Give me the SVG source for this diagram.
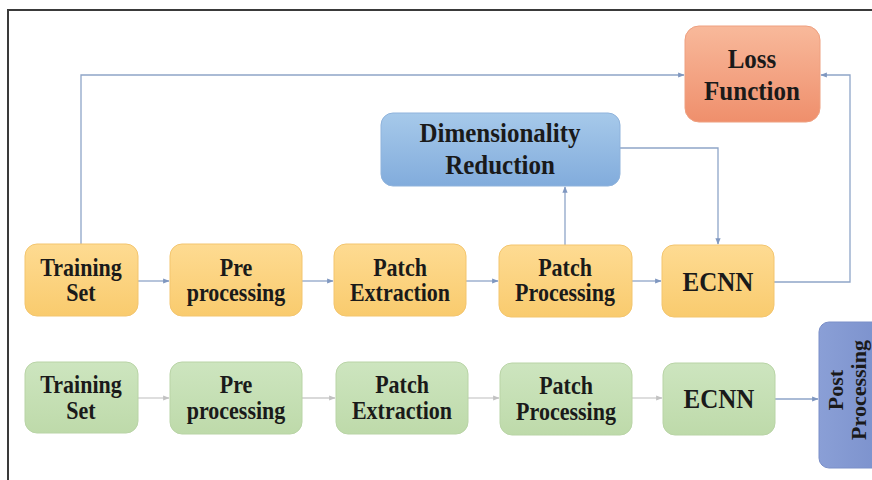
<svg xmlns="http://www.w3.org/2000/svg" width="872" height="480" viewBox="0 0 872 480">
<defs>
<linearGradient id="gO" x1="0" y1="0" x2="0" y2="1"><stop offset="0" stop-color="#fedb92"/><stop offset="1" stop-color="#f9cb6e"/></linearGradient>
<linearGradient id="gG" x1="0" y1="0" x2="0" y2="1"><stop offset="0" stop-color="#cde5bf"/><stop offset="1" stop-color="#bedaaa"/></linearGradient>
<linearGradient id="gB" x1="0" y1="0" x2="0" y2="1"><stop offset="0" stop-color="#a6c9ea"/><stop offset="1" stop-color="#82acdc"/></linearGradient>
<linearGradient id="gL" x1="0" y1="0" x2="0" y2="1"><stop offset="0" stop-color="#f8b99b"/><stop offset="1" stop-color="#ef8f6c"/></linearGradient>
<linearGradient id="gP" x1="0" y1="0" x2="1" y2="0"><stop offset="0" stop-color="#8a9fd6"/><stop offset="1" stop-color="#7a90cc"/></linearGradient>
<marker id="a" viewBox="0 0 10 10" refX="9" refY="5" markerWidth="5" markerHeight="5" orient="auto"><path d="M0,1 L10,5 L0,9 z" fill="#7f97c0"/></marker>
<marker id="ag" viewBox="0 0 10 10" refX="9" refY="5" markerWidth="5" markerHeight="5" orient="auto"><path d="M0,1 L10,5 L0,9 z" fill="#c2c2c2"/></marker>
</defs>
<style>
text{font-family:'Liberation Serif','Times New Roman',serif;font-weight:bold;fill:#1a1a1a;text-anchor:middle}
.s{font-size:22px}
.b{font-size:25px}
.c{fill:none;stroke:#8ea5c8;stroke-width:1.3}
.cg{fill:none;stroke:#cccccc;stroke-width:1.3}
.o{fill:url(#gO);stroke:#f3c56e;stroke-width:1}
.g{fill:url(#gG);stroke:#b9d4a6;stroke-width:1}
</style>
<rect width="872" height="480" fill="#ffffff"/>
<path d="M872,10 H8 V480" fill="none" stroke="#3a3a3a" stroke-width="2"/>

<g id="connectors">
<path class="c" d="M81,244 V75 H684" marker-end="url(#a)"/>
<path class="c" d="M774,282 H850 V75 H821" marker-end="url(#a)"/>
<path class="c" d="M620,148 H718 V244" marker-end="url(#a)"/>
<path class="c" d="M565,245 V187" marker-end="url(#a)"/>
<path class="c" d="M138,281 H169" marker-end="url(#a)"/>
<path class="c" d="M302,281 H333" marker-end="url(#a)"/>
<path class="c" d="M466,281 H498" marker-end="url(#a)"/>
<path class="c" d="M632,281 H661" marker-end="url(#a)"/>
<path class="cg" d="M138,398 H169" marker-end="url(#ag)"/>
<path class="cg" d="M302,398 H335" marker-end="url(#ag)"/>
<path class="cg" d="M468,398 H499" marker-end="url(#ag)"/>
<path class="cg" d="M632,398 H662" marker-end="url(#ag)"/>
<path class="c" d="M775,399 H818" marker-end="url(#a)"/>
</g>

<g id="loss"><rect x="685" y="26" width="135" height="96" rx="14" fill="url(#gL)" stroke="#eea080"/><text class="b" transform="translate(752,68) scale(1,1.05)">Loss</text><text class="b" transform="translate(752,100) scale(1,1.05)">Function</text></g>
<g id="dimred"><rect x="381" y="113" width="239" height="73" rx="12" fill="url(#gB)" stroke="#8fb3dc"/><text class="b" transform="translate(500,142) scale(1,1.05)">Dimensionality</text><text class="b" transform="translate(500,174) scale(1,1.05)">Reduction</text></g>

<g id="t1"><rect class="o" x="25" y="244" width="113" height="72" rx="12"/><text class="s" transform="translate(81,276) scale(1,1.13)">Training</text><text class="s" transform="translate(81,301) scale(1,1.13)">Set</text></g>
<g id="t2"><rect class="o" x="170" y="244" width="132" height="72" rx="12"/><text class="s" transform="translate(236,276) scale(1,1.13)">Pre</text><text class="s" transform="translate(236,301) scale(1,1.13)">processing</text></g>
<g id="t3"><rect class="o" x="334" y="244" width="132" height="72" rx="12"/><text class="s" transform="translate(400,276) scale(1,1.13)">Patch</text><text class="s" transform="translate(400,301) scale(1,1.13)">Extraction</text></g>
<g id="t4"><rect class="o" x="499" y="245" width="133" height="72" rx="12"/><text class="s" transform="translate(565,276) scale(1,1.13)">Patch</text><text class="s" transform="translate(565,301) scale(1,1.13)">Processing</text></g>
<g id="t5"><rect class="o" x="662" y="245" width="112" height="72" rx="12"/><text class="b" transform="translate(718,291) scale(1,1.1)">ECNN</text></g>

<g id="b1"><rect class="g" x="25" y="362" width="113" height="71" rx="12"/><text class="s" transform="translate(81,393) scale(1,1.13)">Training</text><text class="s" transform="translate(81,419) scale(1,1.13)">Set</text></g>
<g id="b2"><rect class="g" x="170" y="362" width="132" height="72" rx="12"/><text class="s" transform="translate(236,393) scale(1,1.13)">Pre</text><text class="s" transform="translate(236,419) scale(1,1.13)">processing</text></g>
<g id="b3"><rect class="g" x="336" y="362" width="132" height="72" rx="12"/><text class="s" transform="translate(402,393) scale(1,1.13)">Patch</text><text class="s" transform="translate(402,419) scale(1,1.13)">Extraction</text></g>
<g id="b4"><rect class="g" x="500" y="363" width="132" height="72" rx="12"/><text class="s" transform="translate(566,394) scale(1,1.13)">Patch</text><text class="s" transform="translate(566,420) scale(1,1.13)">Processing</text></g>
<g id="b5"><rect class="g" x="663" y="363" width="112" height="72" rx="12"/><text class="b" transform="translate(719,408) scale(1,1.1)">ECNN</text></g>

<g id="post"><rect x="819" y="322" width="70" height="146" rx="10" fill="url(#gP)" stroke="#7a8fc8"/><text class="s" transform="translate(843,390) rotate(-90)">Post</text><text class="s" transform="translate(866,390) rotate(-90)">Processing</text></g>
</svg>
